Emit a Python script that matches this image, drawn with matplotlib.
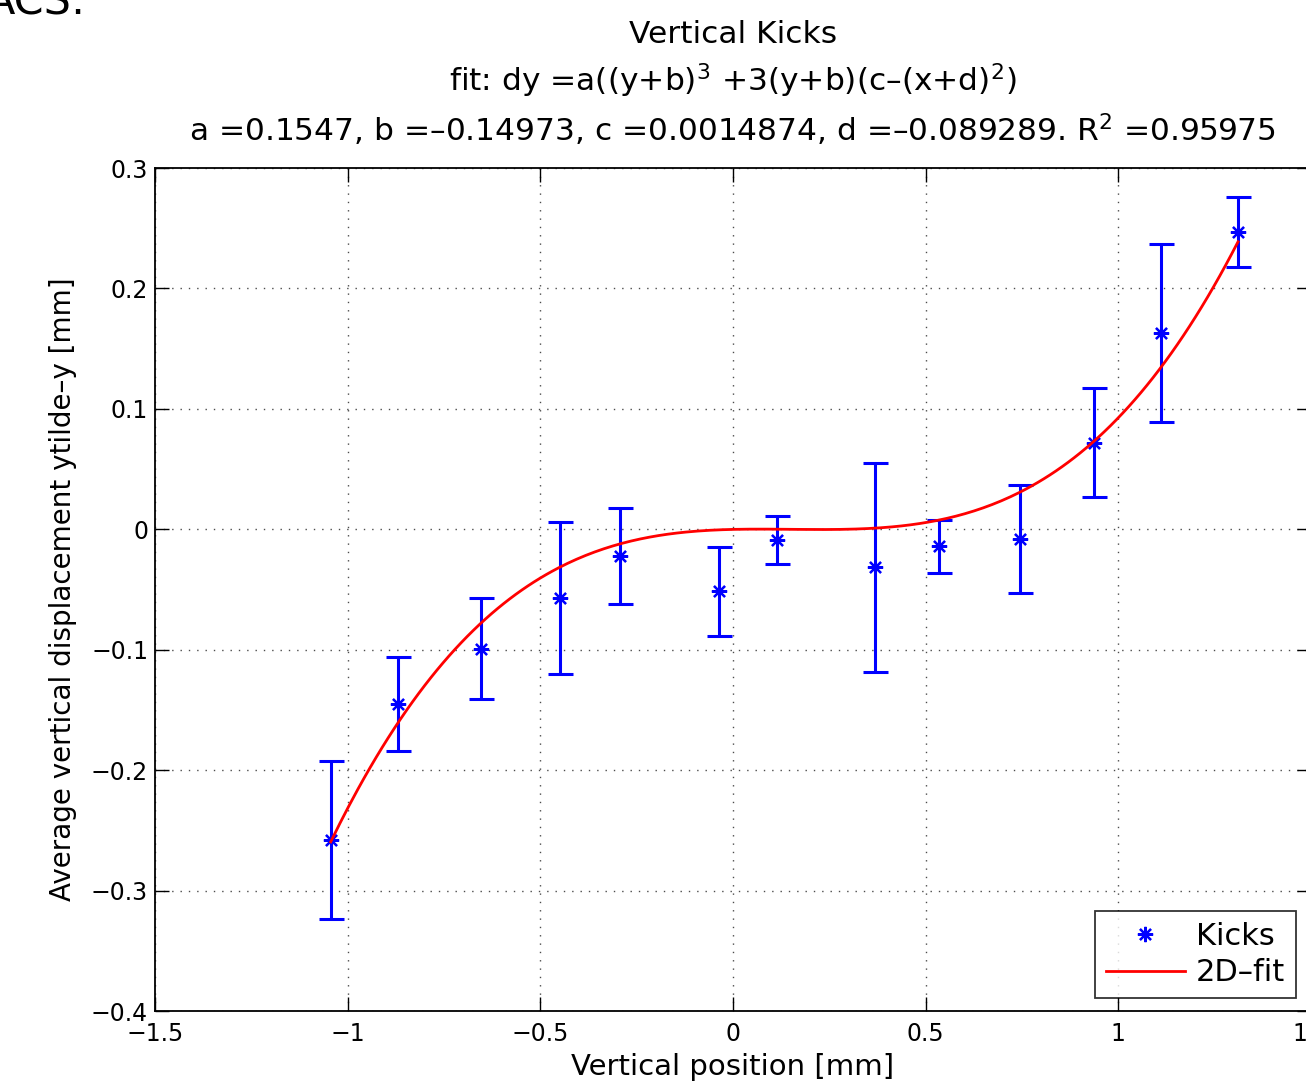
import numpy as np
import matplotlib.pyplot as plt

# measured kicks (vertical position, mean displacement, error bar half-length)
ypos = [-1.044, -0.870, -0.655, -0.448, -0.293, -0.036, 0.114, 0.368, 0.536, 0.746, 0.938, 1.111, 1.311]
dy = [-0.258, -0.145, -0.099, -0.057, -0.022, -0.0515, -0.009, -0.0316, -0.014, -0.008, 0.072, 0.163, 0.247]
err = [0.066, 0.039, 0.042, 0.063, 0.040, 0.037, 0.020, 0.087, 0.022, 0.045, 0.045, 0.074, 0.029]

# fit parameters (from the title)
a, b, c, d = 0.1547, -0.14973, 0.0014874, -0.089289
r2 = 0.95975

yy = np.linspace(min(ypos), max(ypos), 300)
xx = 0.0
fit = a * ((yy + b)**3 + 3 * (yy + b) * (c - (xx + d)**2))

plt.rcParams['font.family'] = 'DejaVu Sans'
plt.rcParams['mathtext.fontset'] = 'dejavusans'

fig = plt.figure(figsize=(13.06, 10.82), dpi=100)
ax = fig.add_axes([0.1187, 0.0656, 0.885, 0.7791])

ax.errorbar(ypos, dy, yerr=err, fmt='none', ecolor='blue', elinewidth=2.2, capsize=9, capthick=2.2)
ax.plot(ypos, dy, linestyle='none', marker=(8, 2, 0), markersize=11, markeredgewidth=1.6,
        color='blue', label='Kicks')
ax.plot(yy, fit, color='red', linewidth=2, label='2D\u2013fit')

ax.set_xlim(-1.5, 1.5)
ax.set_ylim(-0.4, 0.3)
ax.set_xticks([-1.5, -1, -0.5, 0, 0.5, 1, 1.5])
ax.set_xticklabels(['\u22121.5', '\u22121', '\u22120.5', '0', '0.5', '1', '1.5'])
ax.set_yticks([-0.4, -0.3, -0.2, -0.1, 0, 0.1, 0.2, 0.3])
ax.set_yticklabels(['\u22120.4', '\u22120.3', '\u22120.2', '\u22120.1', '0', '0.1', '0.2', '0.3'])
ax.tick_params(direction='in', length=10, width=1, top=True, right=True, labelsize=17)
ax.tick_params(axis='x', pad=8)
ax.tick_params(axis='y', pad=5)
ax.grid(True, linestyle=(0, (1, 5)), color='black', linewidth=1, alpha=0.7)
for s in ax.spines.values():
    s.set_linewidth(1.3)

ax.set_xlabel('Vertical position [mm]', fontsize=21, labelpad=5)
ax.set_ylabel('Average vertical displacement ytilde\u2013y [mm]', fontsize=20, labelpad=10)
ax.set_title('Vertical Kicks\n'
             'fit: dy =a((y+b)$^3$ +3(y+b)(c\u2013(x+d)$^2$)\n'
             f'a ={a}, b =\u2013{-b}, c ={c}, d =\u2013{-d}. R$^2$ ={r2}',
             fontsize=22.5, linespacing=1.4, pad=19)

leg = ax.legend(loc='lower right', fontsize=22, frameon=True, fancybox=False,
                edgecolor='black', borderaxespad=0, handlelength=2.6, borderpad=0.35,
                handletextpad=0.35, labelspacing=0.25, bbox_to_anchor=(0.987, 0.0154))
leg.get_frame().set_linewidth(1.3)

fig.text(-0.011, 0.987, 'ACS:', fontsize=31, ha='left', va='baseline')

fig.savefig('out.png', dpi=100)
